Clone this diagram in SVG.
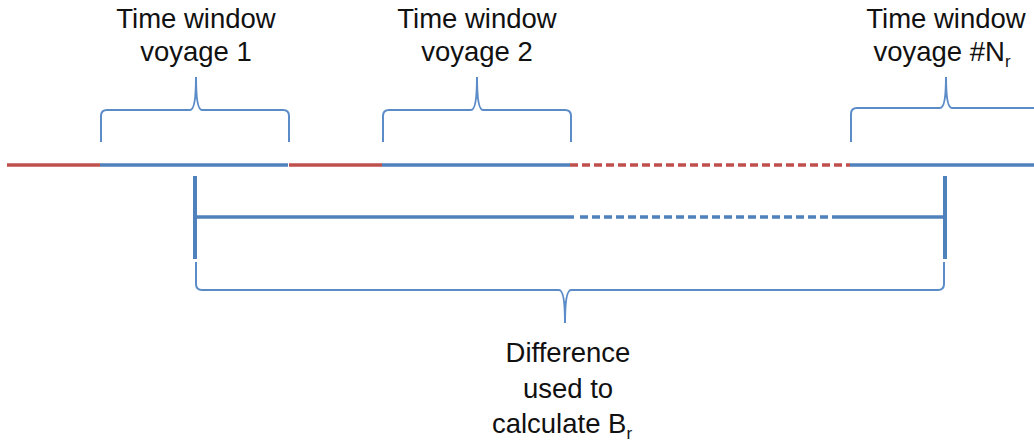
<svg xmlns="http://www.w3.org/2000/svg" width="1034" height="444" viewBox="0 0 1034 444">
  <style>
    .lbl { font-family: "Liberation Sans", Arial, sans-serif; font-size: 27.5px; fill: #111; text-anchor: middle; }
    .sub { font-size: 17px; }
    .blue { stroke: #4F81BD; stroke-width: 3.5; fill: none; }
    .red { stroke: #C0504D; stroke-width: 3.5; fill: none; }
    .dash { stroke-dasharray: 8 4; }
    .brace { stroke: #5B8CC8; stroke-width: 2; fill: none; }
    .bar { stroke: #4F81BD; stroke-width: 4; fill: none; }
  </style>
  <rect width="1034" height="444" fill="#ffffff"/>

  <g id="connectors">
    <!-- timeline -->
    <line class="red" x1="7" y1="165" x2="100" y2="165"/>
    <line class="blue" x1="100" y1="165" x2="288" y2="165"/>
    <line class="red" x1="289" y1="165" x2="382" y2="165"/>
    <line class="blue" x1="382" y1="165" x2="570" y2="165"/>
    <line class="red dash" x1="570" y1="165" x2="850" y2="165"/>
    <line class="blue" x1="850" y1="165" x2="1034" y2="165"/>

    <!-- difference span -->
    <line class="bar" x1="195" y1="176" x2="195" y2="259"/>
    <line class="bar" x1="945" y1="176" x2="945" y2="259"/>
    <line class="blue" x1="195" y1="217" x2="574" y2="217"/>
    <line class="blue dash" x1="580" y1="217" x2="840" y2="217"/>
    <line class="blue" x1="840" y1="217" x2="945" y2="217"/>
  </g>

  <g id="window1">
    <path class="brace" d="M101,142 L101,116 Q101,110 107,110 L190,110 Q196,110 196,77 Q196,110 202,110 L283,110 Q289,110 289,116 L289,142"/>
    <text class="lbl" x="196" y="28">Time window</text>
    <text class="lbl" x="196" y="61">voyage 1</text>
  </g>

  <g id="window2">
    <path class="brace" d="M383,142 L383,116 Q383,110 389,110 L471,110 Q477,110 477,77 Q477,110 483,110 L565,110 Q571,110 571,116 L571,142"/>
    <text class="lbl" x="477" y="28">Time window</text>
    <text class="lbl" x="477" y="61">voyage 2</text>
  </g>

  <g id="windowN">
    <path class="brace" d="M851,142 L851,114 Q851,108 857,108 L940,108 Q946,108 946,77 Q946,108 952,108 L1040,108"/>
    <text class="lbl" x="946" y="28">Time window</text>
    <text class="lbl" x="942" y="61">voyage #N<tspan class="sub" dy="6">r</tspan></text>
  </g>

  <g id="difference">
    <path class="brace" d="M196,262 L196,284 Q196,290 202,290 L559,290 Q565,290 565,323 Q565,290 571,290 L938,290 Q944,290 944,284 L944,262"/>
    <text class="lbl" x="568" y="362">Difference</text>
    <text class="lbl" x="568" y="398">used to</text>
    <text class="lbl" x="562" y="433">calculate B<tspan class="sub" dy="6">r</tspan></text>
  </g>
</svg>
